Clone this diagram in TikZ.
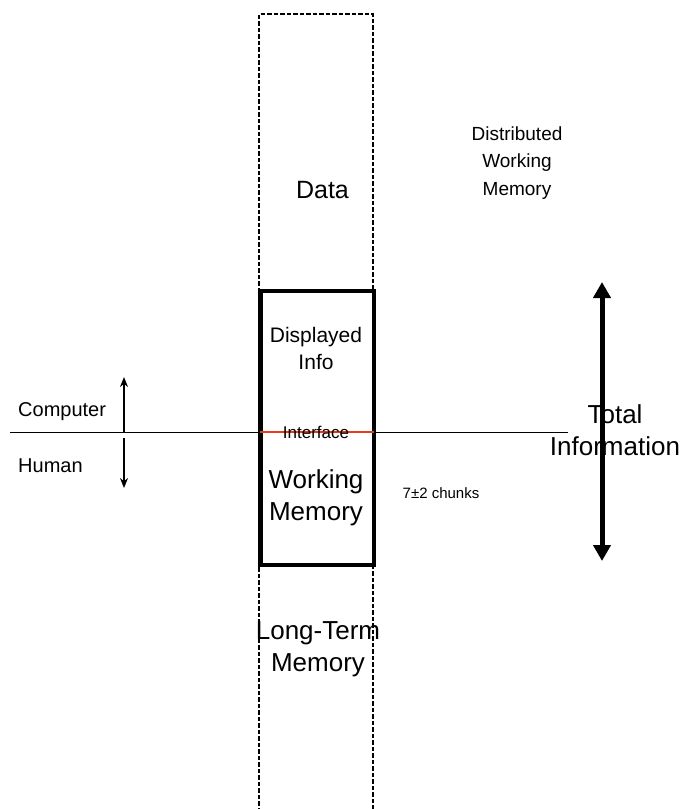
\documentclass[tikz,border=0pt]{standalone}
\usepackage{fontspec}
\setmainfont{Liberation Sans}
\usetikzlibrary{arrows.meta}
\definecolor{ifred}{RGB}{232,58,20}
\tikzset{
  lbl/.style={align=center, inner sep=0pt},
  fsA/.style={font=\fontsize{26}{32}\selectfont},
  fsB/.style={font=\fontsize{21}{27}\selectfont},
  fsC/.style={font=\fontsize{19}{27.5}\selectfont},
  dashbox/.style={line width=1.5pt, dash pattern=on 4.5pt off 2pt},
  thickbox/.style={line width=4.2pt},
  smallarrow/.style={line width=1.5pt, -{Stealth[length=10pt,width=8pt]}},
  bigarrow/.style={line width=5pt, {Triangle[length=16pt,width=17pt]}-{Triangle[length=16pt,width=17pt]}}
}
\begin{document}
\begin{tikzpicture}[x=1pt,y=-1pt]
\useasboundingbox (0,0) rectangle (682,809);
% dashed column
\draw[dashbox] (259,812) -- (259,14) -- (373,14) -- (373,812);
% horizontal divider
\coordinate (hl) at (10,432);
\coordinate (hr) at (568,432);
\draw[line width=1pt] (hl) -- (hr);
% thick box
\draw[thickbox, fill=white] (260.5,291) rectangle (374,565);
% red interface line
\coordinate (rl) at (260,432);
\coordinate (rr) at (374,432);
\draw[ifred, line width=2.8pt] (rl) -- (rr);
% small arrows
\coordinate (ua0) at (124,432);
\coordinate (ua1) at (124,377);
\coordinate (da0) at (124,438);
\coordinate (da1) at (124,488);
\draw[smallarrow] (ua0) -- (ua1);
\draw[smallarrow] (da0) -- (da1);
% big arrow
\coordinate (ba0) at (602,561);
\coordinate (ba1) at (602,282);
% texts
\node[lbl, font=\fontsize{25}{28}\selectfont] (data) at (322.5,190) {Data};
\node[lbl, fsC] (dwm) at (517,163) {Distributed\\Working\\Memory};
\node[lbl, fsB] (disp) at (316,348) {Displayed\\Info};
\node[lbl, font=\fontsize{17}{20}\selectfont, anchor=base] (intf) at (316,438) {Interface};
\node[lbl, fsA] (wm) at (316,498) {Working\\Memory};
\node[lbl, fsA] (ltm) at (318,649) {Long-Term\\Memory};
\node[lbl, font=\fontsize{15}{18}\selectfont, anchor=base] (chunks) at (441,498) {7±2 chunks};
\node[lbl, font=\fontsize{20}{24}\selectfont, anchor=base west] (comp) at (18,416) {Computer};
\node[lbl, font=\fontsize{20}{24}\selectfont, anchor=base west] (hum) at (18,472) {Human};
\node[lbl, fsA] (total) at (615,430) {Total\\Information};
\draw[bigarrow] (ba0) -- (ba1);
\end{tikzpicture}
\end{document}
